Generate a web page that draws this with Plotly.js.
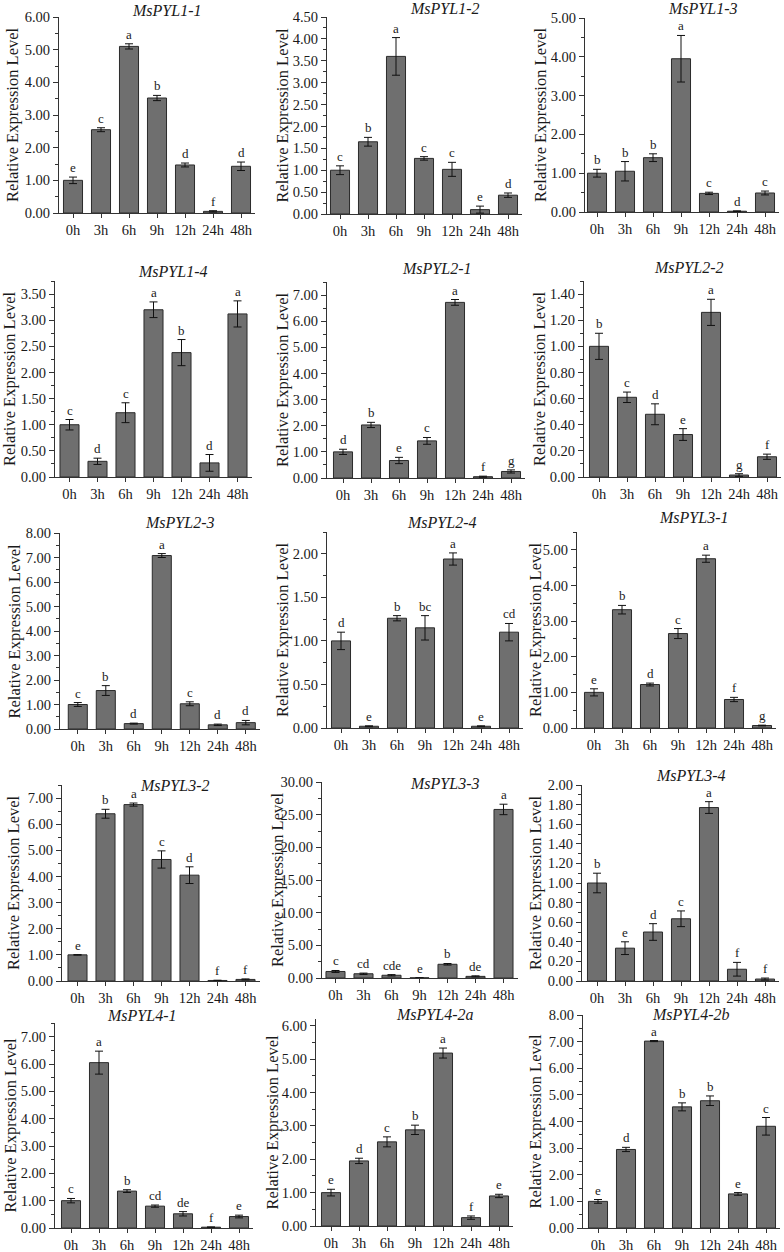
<!DOCTYPE html>
<html><head><meta charset="utf-8">
<script src="https://cdn.plot.ly/plotly-3.0.1.min.js"></script>
<style>body{margin:0;background:#fff}#chart{width:784px;height:1252px}</style>
</head><body><div id="chart"></div>
<script>
// ---------- DATA ----------
const times = ['0h','3h','6h','9h','12h','24h','48h'];
const geneNames = ['MsPYL1-1','MsPYL1-2','MsPYL1-3','MsPYL1-4','MsPYL2-1','MsPYL2-2','MsPYL2-3','MsPYL2-4',
  'MsPYL3-1','MsPYL3-2','MsPYL3-3','MsPYL3-4','MsPYL4-1','MsPYL4-2a','MsPYL4-2b'];

const pyl1_1 = [1.00, 2.55, 5.10, 3.52, 1.47, 0.05, 1.43];
const pyl1_1_err = [0.10, 0.06, 0.08, 0.08, 0.06, 0.02, 0.13];
const pyl1_1_sig = ['e','c','a','b','d','f','d'];

const pyl1_2 = [1.00, 1.65, 3.60, 1.27, 1.02, 0.10, 0.43];
const pyl1_2_err = [0.10, 0.10, 0.43, 0.04, 0.16, 0.08, 0.05];
const pyl1_2_sig = ['c','b','a','c','c','e','d'];

const pyl1_3 = [1.00, 1.05, 1.40, 3.95, 0.48, 0.02, 0.49];
const pyl1_3_err = [0.10, 0.25, 0.10, 0.60, 0.03, 0.01, 0.05];
const pyl1_3_sig = ['b','b','b','a','c','d','c'];

const pyl1_4 = [1.00, 0.30, 1.23, 3.20, 2.38, 0.27, 3.12];
const pyl1_4_err = [0.10, 0.06, 0.19, 0.15, 0.25, 0.16, 0.25];
const pyl1_4_sig = ['c','d','c','a','b','d','a'];

const pyl2_1 = [1.00, 2.03, 0.67, 1.42, 6.72, 0.05, 0.25];
const pyl2_1_err = [0.10, 0.10, 0.12, 0.13, 0.11, 0.02, 0.06];
const pyl2_1_sig = ['d','b','e','c','a','f','g'];

const pyl2_2 = [1.00, 0.61, 0.48, 0.325, 1.26, 0.015, 0.155];
const pyl2_2_err = [0.10, 0.04, 0.08, 0.045, 0.10, 0.01, 0.02];
const pyl2_2_sig = ['b','c','d','e','a','g','f'];

const pyl2_3 = [1.00, 1.57, 0.22, 7.08, 1.03, 0.17, 0.26];
const pyl2_3_err = [0.08, 0.20, 0.02, 0.08, 0.08, 0.03, 0.09];
const pyl2_3_sig = ['c','b','d','a','c','d','d'];

const pyl2_4 = [1.00, 0.02, 1.26, 1.15, 1.94, 0.02, 1.10];
const pyl2_4_err = [0.10, 0.005, 0.03, 0.14, 0.07, 0.005, 0.10];
const pyl2_4_sig = ['d','e','b','bc','a','e','cd'];

const pyl3_1 = [1.00, 3.32, 1.22, 2.65, 4.75, 0.80, 0.07];
const pyl3_1_err = [0.10, 0.12, 0.04, 0.14, 0.10, 0.06, 0.01];
const pyl3_1_sig = ['e','b','d','c','a','f','g'];

const pyl3_2 = [1.00, 6.40, 6.75, 4.65, 4.05, 0.02, 0.06];
const pyl3_2_err = [0.01, 0.17, 0.06, 0.33, 0.32, 0.01, 0.02];
const pyl3_2_sig = ['e','b','a','c','d','f','f'];

const pyl3_3 = [1.00, 0.65, 0.42, 0.02, 2.10, 0.25, 25.80];
const pyl3_3_err = [0.15, 0.10, 0.10, 0.01, 0.12, 0.08, 0.80];
const pyl3_3_sig = ['c','cd','cde','e','b','de','a'];

const pyl3_4 = [1.00, 0.335, 0.50, 0.635, 1.77, 0.12, 0.02];
const pyl3_4_err = [0.10, 0.065, 0.085, 0.08, 0.06, 0.07, 0.01];
const pyl3_4_sig = ['b','e','d','c','a','f','f'];

const pyl4_1 = [1.00, 6.05, 1.35, 0.80, 0.52, 0.03, 0.42];
const pyl4_1_err = [0.08, 0.42, 0.05, 0.04, 0.08, 0.01, 0.05];
const pyl4_1_sig = ['c','a','b','cd','de','f','e'];

const pyl4_2a = [1.00, 1.95, 2.52, 2.88, 5.18, 0.25, 0.90];
const pyl4_2a_err = [0.10, 0.08, 0.15, 0.14, 0.15, 0.05, 0.05];
const pyl4_2a_sig = ['e','d','c','b','a','f','e'];

const pyl4_2b = [1.00, 2.95, 7.02, 4.55, 4.78, 1.28, 3.82];
const pyl4_2b_err = [0.07, 0.08, 0.02, 0.15, 0.18, 0.05, 0.33];
const pyl4_2b_sig = ['e','d','a','b','b','e','c'];

const seriesValues = [pyl1_1,pyl1_2,pyl1_3,pyl1_4,pyl2_1,pyl2_2,pyl2_3,pyl2_4,pyl3_1,pyl3_2,pyl3_3,pyl3_4,pyl4_1,pyl4_2a,pyl4_2b];
const seriesErrors = [pyl1_1_err,pyl1_2_err,pyl1_3_err,pyl1_4_err,pyl2_1_err,pyl2_2_err,pyl2_3_err,pyl2_4_err,pyl3_1_err,pyl3_2_err,pyl3_3_err,pyl3_4_err,pyl4_1_err,pyl4_2a_err,pyl4_2b_err];
const seriesLetters = [pyl1_1_sig,pyl1_2_sig,pyl1_3_sig,pyl1_4_sig,pyl2_1_sig,pyl2_2_sig,pyl2_3_sig,pyl2_4_sig,pyl3_1_sig,pyl3_2_sig,pyl3_3_sig,pyl3_4_sig,pyl4_1_sig,pyl4_2a_sig,pyl4_2b_sig];
const yAxisMax = [6, 4.5, 5, 3.75, 7.5, 1.5, 8, 2.25, 5.5, 7.5, 30, 2, 7.5, 6.2, 8];
const yMajorStep = [1, 0.5, 1, 0.5, 1, 0.2, 1, 0.5, 1, 1, 5, 0.2, 1, 1, 1];
const yMinorStep = [0.5, 0.25, 0.5, 0.25, 0.5, 0.1, 0.5, 0.25, 0.5, 0.5, 2.5, 0.1, 0.5, 0.5, 0.5];
const yTitleText = 'Relative Expression Level';

// ---------- GEOMETRY (pixels) ----------
// [axisX, firstBarCenterX, plotTop, plotBottom, titleX, titleY, yTitleX]
const geom = [
  [59, 73, 17, 213, 166, 10, 12],
  [327, 340, 17, 214, 445, 9, 282],
  [585, 597, 18, 212, 702, 9, 540],
  [55, 69.5, 281, 477, 172, 272, 10],
  [327, 343, 282, 478, 436, 268, 282],
  [584, 599, 281, 477, 688, 267, 540],
  [60, 77.8, 533, 729, 179, 522, 13.5],
  [327, 341, 532, 728, 441, 522, 282],
  [577, 594, 532, 728, 693, 517, 535],
  [62, 77.5, 785, 981, 174, 785, 13],
  [322, 335.5, 782, 978, 444, 783, 277],
  [582, 597, 785, 981, 690, 776, 535],
  [55, 71, 1023, 1228, 141, 1015, 10],
  [316, 331, 1019, 1226, 434, 1014, 272],
  [583, 598, 1015, 1228, 690, 1014, 535]
];
const W = 784, H = 1252, CAT = 28;
const serif = "'Liberation Serif', 'Times New Roman', Times, serif";
const ink = '#1a1a1a';

const traces = [];
const annotations = [];
const layout = {
  width: W, height: H, autosize: false,
  margin: {l: 0, r: 0, t: 0, b: 0},
  paper_bgcolor: '#fff', plot_bgcolor: '#fff',
  showlegend: false, bargap: 0.32,
  font: {family: serif, color: ink}
};

geneNames.forEach((name, i) => {
  const n = i + 1;
  const sfx = n === 1 ? '' : String(n);
  const [ax, c0, top, bot, tx, ty, ytx] = geom[i];
  const r0 = -(c0 - ax) / CAT;
  traces.push({
    type: 'bar', x: times, y: seriesValues[i],
    xaxis: 'x' + sfx, yaxis: 'y' + sfx,
    marker: {color: '#6f6f6f', line: {color: '#2b2b2b', width: 1}},
    error_y: {type: 'data', array: seriesErrors[i], visible: true, color: '#111', thickness: 1, width: 4},
    hoverinfo: 'skip'
  });
  layout['xaxis' + sfx] = {
    type: 'category', domain: [ax / W, (c0 + 6.5 * CAT) / W], anchor: 'y' + sfx,
    range: [r0, 6.5], fixedrange: true, automargin: false,
    showline: true, linecolor: '#333', linewidth: 1, showgrid: false, zeroline: false,
    ticks: 'outside', ticklen: 4, tickcolor: '#333',
    tickfont: {family: serif, size: 14.5, color: ink}
  };
  layout['yaxis' + sfx] = {
    domain: [1 - bot / H, 1 - top / H], anchor: 'x' + sfx,
    range: [0, yAxisMax[i]], dtick: yMajorStep[i], tick0: 0, tickformat: '.2f',
    fixedrange: true, automargin: false,
    showline: true, linecolor: '#333', linewidth: 1, showgrid: false, zeroline: false,
    ticks: 'outside', ticklen: 5, tickcolor: '#333',
    minor: {dtick: yMinorStep[i], tick0: 0, ticks: 'outside', ticklen: 3, tickcolor: '#333', showgrid: false},
    tickfont: {family: serif, size: 14.5, color: ink}
  };
  annotations.push({
    xref: 'paper', yref: 'paper', x: tx / W, y: 1 - ty / H,
    xanchor: 'center', yanchor: 'middle', showarrow: false,
    text: '<i>' + name + '</i>', font: {family: serif, size: 16, color: ink}
  });
  annotations.push({
    xref: 'paper', yref: 'paper', x: ytx / W, y: 1 - (top + bot) / 2 / H,
    xanchor: 'center', yanchor: 'middle', showarrow: false, textangle: -90,
    text: yTitleText, font: {family: serif, size: 16.5, color: ink}
  });
  seriesLetters[i].forEach((lt, k) => {
    annotations.push({
      xref: 'x' + sfx, yref: 'y' + sfx, x: times[k], y: seriesValues[i][k] + seriesErrors[i][k],
      xanchor: 'center', yanchor: 'bottom', showarrow: false, yshift: 0,
      text: lt, font: {family: serif, size: 13, color: ink}
    });
  });
});
layout.annotations = annotations;

Plotly.newPlot('chart', traces, layout, {staticPlot: true, displayModeBar: false});
</script>
</body></html>
